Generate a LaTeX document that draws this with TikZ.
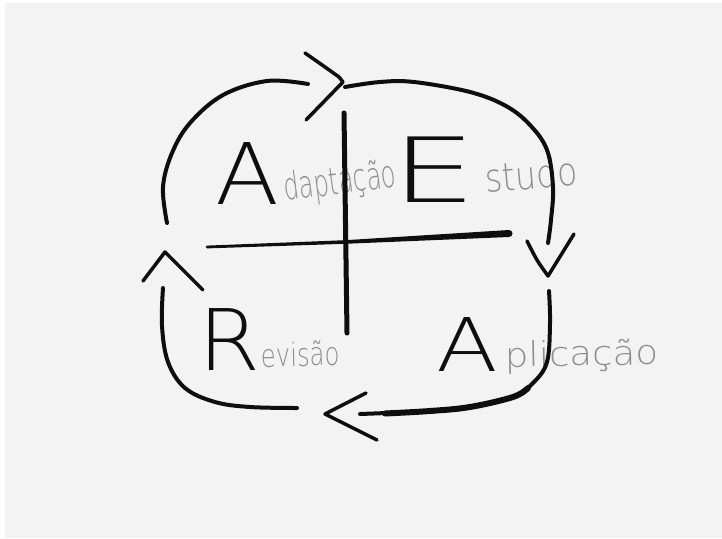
\documentclass[tikz,border=0pt]{standalone}
\usepackage{graphicx}
\usepackage{fontspec}
\newfontfamily\handfont{DejaVu Sans ExtraLight}
\definecolor{ink}{HTML}{0E0E0E}
\definecolor{pencil}{HTML}{8E8E8E}
\definecolor{paper}{HTML}{F3F3F3}
\tikzset{
  pen/.style={draw=ink, line width=4pt, line cap=round, line join=round},
  thickpen/.style={pen, line width=6pt},
  bigletter/.style={inner sep=0pt, anchor=base west, text=ink},
  word/.style={inner sep=0pt, anchor=base west, text=pencil}
}
\newcommand{\bigtxt}[3]{{\handfont\fontsize{#1}{#1}\selectfont\scalebox{#2}[1]{#3}}}
\begin{document}
\begin{tikzpicture}[x=1pt,y=-1pt]
\useasboundingbox (0,0) rectangle (722,538);
\fill[white] (0,0) rectangle (722,538);
\fill[paper] (5,3) rectangle (722,538);

% big letters
\node[bigletter] (bigA) at (215,204) {\makebox[62pt][l]{\bigtxt{85}{1.1}{A}}};
\node[bigletter] (bigE) at (405,202) {\makebox[72pt][l]{\hspace*{-13.5pt}\bigtxt{90}{1.5}{E}}};
\node[bigletter] (bigR) at (198,370) {\makebox[58pt][l]{\bigtxt{85}{1.05}{R}}};
\node[bigletter] (bigA2) at (436,371) {\makebox[64pt][l]{\bigtxt{74}{1.22}{A}}};

% pencil words
\node[word, rotate=7.4] (wA) at (285,201) {\bigtxt{38}{0.64}{daptação}};
\node[word, rotate=5] (wE) at (486,193) {\bigtxt{39}{0.85}{studo}};
\node[word, rotate=1.4] (wR) at (261,367) {\bigtxt{32}{0.76}{evisão}};
\node[word, rotate=1] (wA2) at (505,367) {\bigtxt{34}{1.09}{plicação}};

% cross
\coordinate (vt) at (344,113);
\coordinate (vb) at (347,333);
\draw[pen, line width=5pt] (vt) -- (vb);
\coordinate (hl) at (207,247);
\coordinate (hr) at (509,233.5);
\fill[ink] (207,245.6) -- (345,240.2) -- (509,230) -- (509,237) -- (345,243.8) -- (207,248.4) -- cycle;
\fill[ink] (hr) circle (3.5);
\fill[ink] (hl) circle (1.4);

% top-left arc and arrowhead
\coordinate (tl1) at (167,223);
\coordinate (tl2) at (308,84);
\draw[pen] plot[smooth, tension=0.6] coordinates {(tl1) (163,187) (172,153) (190,123) (223,95) (267,81) (tl2)};
\coordinate (ta1) at (305,53);
\coordinate (tav) at (343,82);
\coordinate (ta2) at (306,120);
\draw[pen, line width=3.5pt] (ta1) -- (325,67) -- (339,77) -- (tav) -- (ta2);

% top-right arc and arrowhead
\coordinate (tr1) at (345,87);
\coordinate (tr2) at (548,243);
\draw[pen] plot[smooth, tension=0.6] coordinates {(tr1) (380,82) (414,82) (470,92) (506,106) (530,125) (547,150) (553,187) (551,220) (tr2)};
\coordinate (ra1) at (527,241);
\coordinate (rav) at (548,276);
\coordinate (ra2) at (574,234);
\draw[pen, line width=3.5pt] plot[smooth] coordinates {(ra1) (537,260) (rav)} -- (ra2);

% bottom-right arc and arrowhead
\coordinate (br1) at (549,291);
\coordinate (br2) at (360,414);
\draw[pen] plot[smooth, tension=0.6] coordinates {(br1) (550,323) (547,362) (533,383) (513,397) (470,407) (430,411) (br2)};
\draw[thickpen] plot[smooth, tension=0.6] coordinates {(528,388) (513,397) (470,407) (430,411) (385,413.5)};
\coordinate (ba1) at (366,393);
\coordinate (bav) at (325,414);
\coordinate (ba2) at (377,440);
\draw[pen, line width=3.5pt] (ba1) -- (bav) -- plot[smooth] coordinates {(bav) (347,425) (ba2)};

% bottom-left arc and arrowhead
\coordinate (bl1) at (297,408);
\coordinate (bl2) at (163,288);
\draw[pen] plot[smooth, tension=0.6] coordinates {(bl1) (250,407) (215,402) (185,388) (168,362) (162,326) (bl2)};
\coordinate (la1) at (143,281);
\coordinate (lav) at (165,252);
\coordinate (la2) at (203,290);
\draw[pen, line width=3.5pt] (la1) -- (lav) -- (la2);
\end{tikzpicture}
\end{document}
